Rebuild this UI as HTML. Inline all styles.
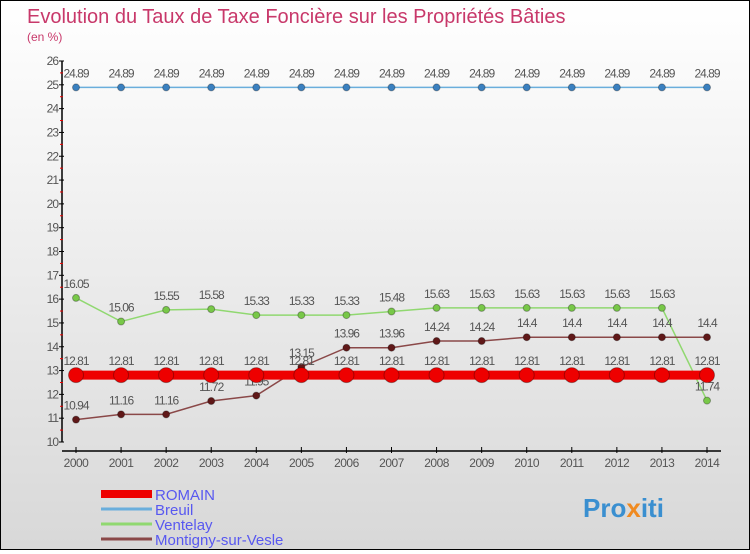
<!DOCTYPE html>
<html><head><meta charset="utf-8"><style>
html,body{margin:0;padding:0}
body{width:750px;height:550px;overflow:hidden;font-family:"Liberation Sans",sans-serif}
#chart{position:absolute;left:0;top:0;width:748px;height:548px;border:1px solid #000;background:linear-gradient(#ffffff,#d8d8d8)}
</style></head><body>
<div id="chart">
<svg id="svg" width="748" height="548" xmlns="http://www.w3.org/2000/svg">
<text x="26" y="22" font-size="20" fill="#c8386a">Evolution du Taux de Taxe Foncière sur les Propriétés Bâties</text>
<text x="26" y="40" font-size="12" fill="#c8386a">(en %)</text>
<g id="axes"></g><g id="series"></g><g id="legend"></g>
<text x="582" y="516" font-size="26" font-weight="bold" fill="#3a8fd0">Pro<tspan fill="#f08a20">x</tspan>iti</text>
</svg></div>
<script>
const years=[2000,2001,2002,2003,2004,2005,2006,2007,2008,2009,2010,2011,2012,2013,2014];
const romain=[12.81,12.81,12.81,12.81,12.81,12.81,12.81,12.81,12.81,12.81,12.81,12.81,12.81,12.81,12.81];
const breuil=[24.89,24.89,24.89,24.89,24.89,24.89,24.89,24.89,24.89,24.89,24.89,24.89,24.89,24.89,24.89];
const ventelay=[16.05,15.06,15.55,15.58,15.33,15.33,15.33,15.48,15.63,15.63,15.63,15.63,15.63,15.63,11.74];
const montigny=[10.94,11.16,11.16,11.72,11.95,13.15,13.96,13.96,14.24,14.24,14.4,14.4,14.4,14.4,14.4];
const yTicks=[10,11,12,13,14,15,16,17,18,19,20,21,22,23,24,25,26];
const NS="http://www.w3.org/2000/svg";
const X=i=>75+i*(706-75)/(years.length-1);
const Y=v=>441-(v-10)*(441-60)/16;
function mk(t,a,p){const e=document.createElementNS(NS,t);for(const k in a)e.setAttribute(k,a[k]);(p||document.getElementById('series')).appendChild(e);return e;}
const ax=document.getElementById('axes');
let e=mk('line',{x1:61,y1:60,x2:61,y2:441,stroke:'#000','stroke-width':1.5},ax);


yTicks.forEach(t=>{
 mk('line',{x1:58,x2:63,y1:Y(t),y2:Y(t),stroke:'#000'},ax);
 if(t<26) mk('line',{x1:59,x2:62,y1:Y(t+0.5),y2:Y(t+0.5),stroke:'#e00'},ax);
 const l=mk('text',{x:57,y:Y(t)+4,'font-size':12,'text-anchor':'end',fill:'#555','letter-spacing':'-1'},ax);l.textContent=t;
 
 
});
e=mk('line',{x1:61,y1:450,x2:720,y2:450,stroke:'#000','stroke-width':1.5},ax);


years.forEach((y,i)=>{
 mk('line',{x1:X(i),x2:X(i),y1:446,y2:452,stroke:'#000'},ax);
 const l=mk('text',{x:X(i),y:466,'font-size':12,'text-anchor':'middle',fill:'#555','letter-spacing':'-0.5'},ax);l.textContent=y;
 
 
});
function series(vals,color,w,r,name,dot){
 const g=mk('g',{});
 
 
 mk('polyline',{points:vals.map((v,i)=>X(i)+','+Y(v)).join(' '),fill:'none',stroke:color,'stroke-width':w},g);
 vals.forEach((v,i)=>{
  const c=mk('circle',{cx:X(i),cy:Y(v),r:r,fill:dot,stroke:'rgba(0,0,0,0.3)'},g);
  
  
  const t=mk('text',{x:X(i),y:Y(v)-10,'font-size':12,'text-anchor':'middle',fill:'#555','letter-spacing':'-1'},g);
  t.textContent=String(v);
 });
}
series(breuil,'#6aaedc',1.5,3.5,'breuil-series','#3a80c0');
series(ventelay,'#90d870',1.5,3.5,'ventelay-series','#78c848');
series(montigny,'#8a4848',1.5,3.5,'montigny-series','#601818');
series(romain,'#ee0000',9,7.5,'romain-series','#ee0000');
const lg=document.getElementById('legend');
const items=[['ROMAIN','#ee0000',8],['Breuil','#6aaedc',3],['Ventelay','#90d870',3],['Montigny-sur-Vesle','#8a4848',3]];
items.forEach((it,k)=>{
 const yy=493+k*15;
 const l=mk('line',{x1:100,x2:151,y1:yy,y2:yy,stroke:it[1],'stroke-width':it[2]},lg);
 
 
 const t=mk('text',{x:154,y:yy+6,'font-size':15,fill:'#5858f0'},lg);t.textContent=it[0];
 
 
});
</script>
</body></html>
